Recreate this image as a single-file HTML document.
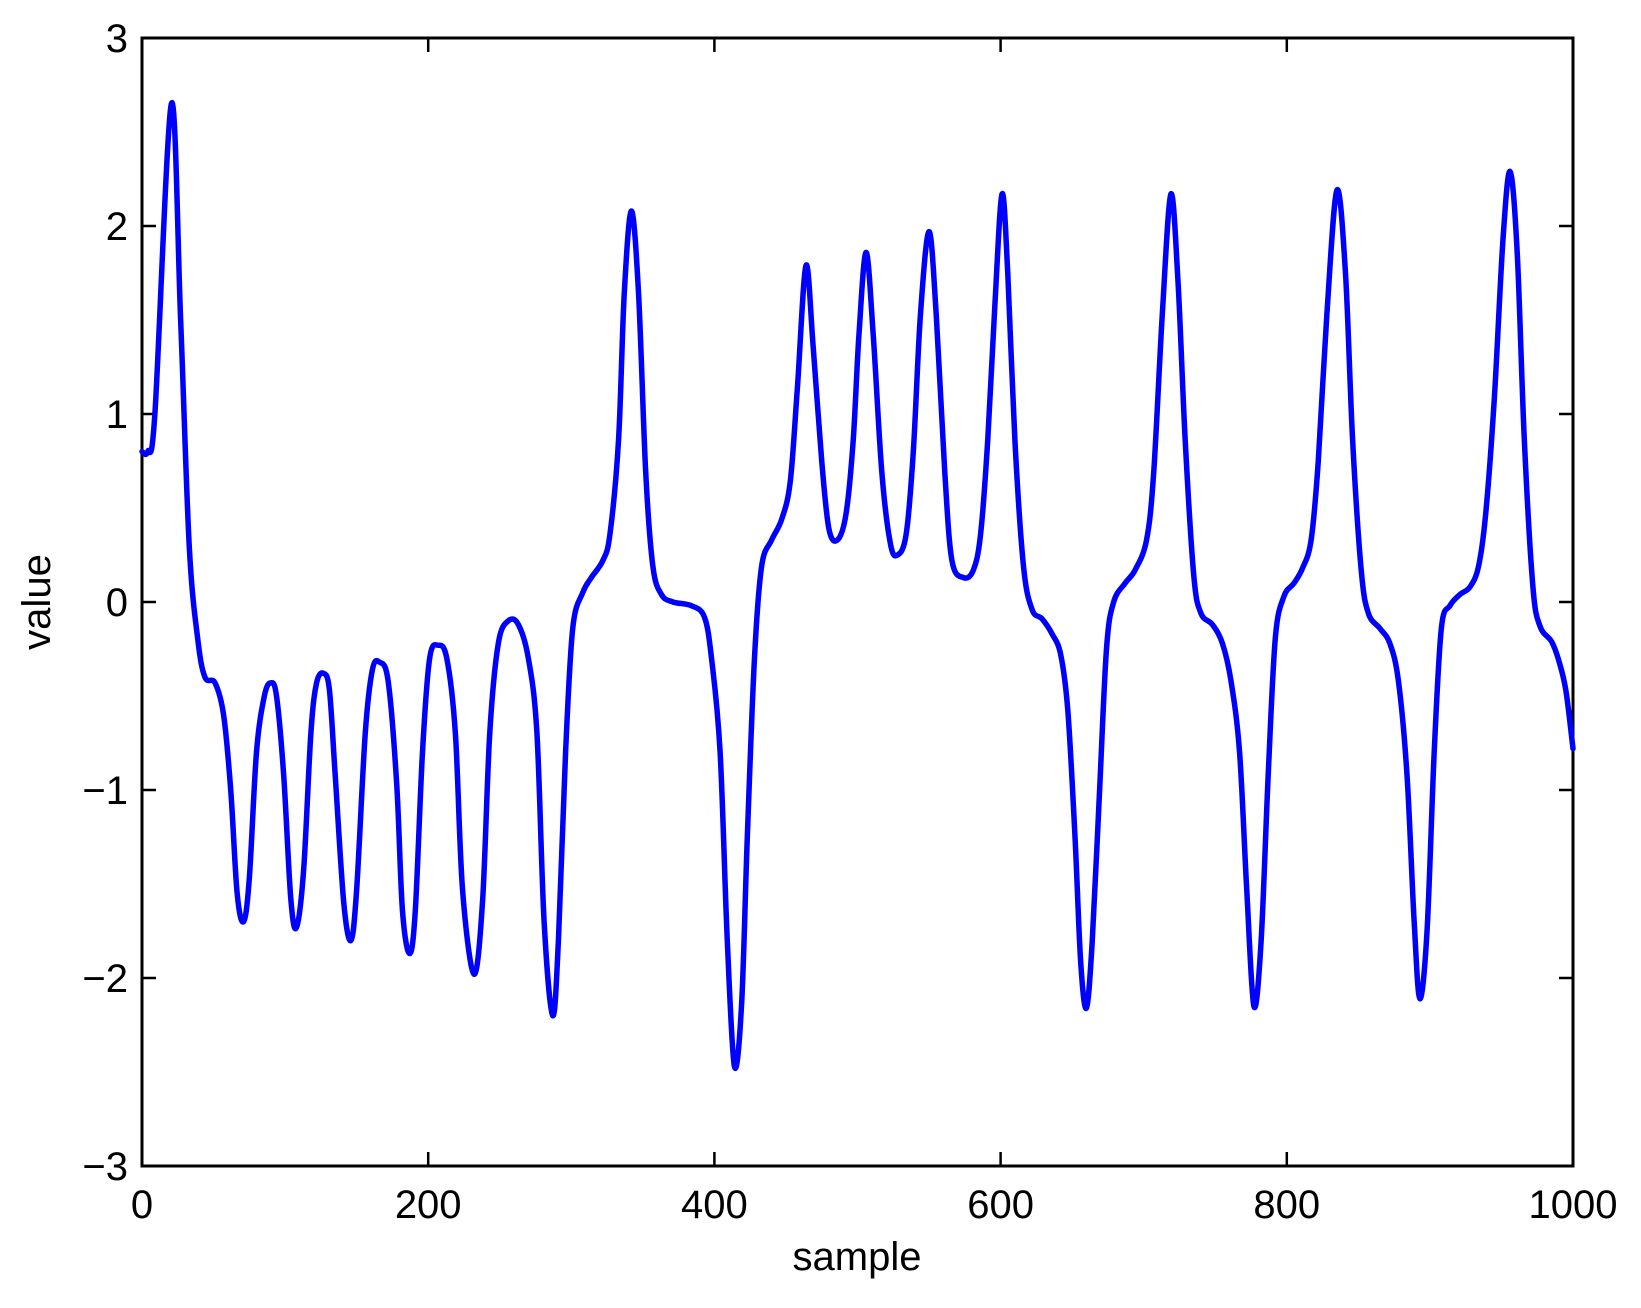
<!DOCTYPE html>
<html><head><meta charset="utf-8"><style>
html,body{margin:0;padding:0;background:#fff;}
svg{display:block;}
text{font-family:"Liberation Sans",Arial,sans-serif;fill:#000;}
</style></head><body>
<svg id="chart" width="1641" height="1308" viewBox="0 0 1641 1308" xmlns="http://www.w3.org/2000/svg">
<g id="axes"></g>
<path id="series" fill="none" stroke="#0000ff" stroke-width="5.5" stroke-linejoin="round" stroke-linecap="round"/>
<text x="857" y="1270" font-size="40" text-anchor="middle">sample</text>
<text x="0" y="0" font-size="40" text-anchor="middle" transform="translate(50,602) rotate(-90)">value</text>
</svg>
<script>
const xTicks = [0,200,400,600,800,1000];
const yTicks = [-3,-2,-1,0,1,2,3];
const yTickLabels = ["\u22123","\u22122","\u22121","0","1","2","3"];
const sampleX = [0,4,9,20.5,27,33,39,44,51,57,62,66.5,71,75,80,85.5,90,94,99,104,108,113,118,122,127,131,135,141,146,150,156,161,166,172,178,182,187,191,196,201,207,213,219,224,232,238,243,249,256,263,270,276,281,287,291,296,301,308,314,322,327,333,337,342,347,352,357,363,371,384,393,398,404,409,414,419,423,428,433,440,447,453,458,464,469,475,480,486,492,497,501,506,511,517,523,528,534,539,544,550,555,561,566,574,581,586,591,596,601,605,610,616,622,629,636,642,647,652,656,660,664,669,674,679,687,694,702,707,713,719,724,729,735,740,748,755,761,767,772,777,782,787,792,798,805,811,817,822,828,835,841,846,852,857,865,872,878,884,889,893,898,903,908,914,921,928,934,939,945,951,956,961,966,972,977,985,990,995,1000];
const sampleY = [0.8,0.8,1.0,2.65,1.5,0.3,-0.2,-0.4,-0.43,-0.6,-1.0,-1.55,-1.7,-1.47,-0.8,-0.5,-0.43,-0.5,-0.92,-1.58,-1.73,-1.42,-0.7,-0.43,-0.38,-0.47,-0.92,-1.6,-1.8,-1.53,-0.7,-0.36,-0.32,-0.42,-0.97,-1.64,-1.87,-1.64,-0.8,-0.3,-0.23,-0.3,-0.7,-1.53,-1.98,-1.59,-0.7,-0.22,-0.1,-0.12,-0.3,-0.7,-1.7,-2.2,-1.8,-0.8,-0.14,0.05,0.13,0.22,0.36,0.86,1.64,2.08,1.64,0.69,0.19,0.04,0,-0.02,-0.08,-0.3,-0.8,-1.8,-2.47,-2.14,-1.25,-0.3,0.19,0.33,0.44,0.64,1.14,1.79,1.36,0.75,0.39,0.33,0.47,0.86,1.42,1.86,1.42,0.69,0.31,0.25,0.36,0.8,1.53,1.97,1.53,0.69,0.22,0.13,0.17,0.36,0.86,1.58,2.17,1.75,0.86,0.19,-0.04,-0.09,-0.17,-0.28,-0.58,-1.25,-1.92,-2.16,-1.81,-1.03,-0.25,0,0.1,0.17,0.33,0.69,1.53,2.17,1.7,0.86,0.14,-0.06,-0.12,-0.22,-0.42,-0.8,-1.53,-2.15,-1.81,-0.92,-0.19,0.03,0.1,0.18,0.33,0.75,1.53,2.19,1.75,0.86,0.17,-0.06,-0.14,-0.22,-0.42,-0.92,-1.7,-2.11,-1.75,-0.8,-0.14,-0.02,0.04,0.08,0.19,0.47,1.08,1.92,2.29,1.86,0.86,0.08,-0.13,-0.21,-0.31,-0.47,-0.78];

const L=142,R=1573,T=38,B=1166;
const xs=v=>L+(v-0)/(1000-0)*(R-L);
const ys=v=>B-(v+3)/6*(B-T);
const NS="http://www.w3.org/2000/svg";
const axes=document.getElementById('axes');
function mk(tag,attrs){const e=document.createElementNS(NS,tag);for(const k in attrs)e.setAttribute(k,attrs[k]);axes.appendChild(e);return e;}
const box=mk('rect',{x:L,y:T,width:R-L,height:B-T,fill:'none',stroke:'#000','stroke-width':3});


xTicks.forEach(t=>{
  const x=xs(t);
  const a=mk('line',{x1:x,y1:B,x2:x,y2:B-14,stroke:'#000','stroke-width':2.5});
  
  
  const b=mk('line',{x1:x,y1:T,x2:x,y2:T+14,stroke:'#000','stroke-width':2.5});
  
  
  const tx=mk('text',{x:x,y:B+52,'font-size':40,'text-anchor':'middle'});
  tx.textContent=String(t);
  
  
});
yTicks.forEach((t,i)=>{
  const y=ys(t);
  const a=mk('line',{x1:L,y1:y,x2:L+14,y2:y,stroke:'#000','stroke-width':2.5});
  
  
  const b=mk('line',{x1:R,y1:y,x2:R-14,y2:y,stroke:'#000','stroke-width':2.5});
  
  
  const tx=mk('text',{x:L-14,y:y+14,'font-size':40,'text-anchor':'end'});
  tx.textContent=yTickLabels[i];
  
  
});
const P=sampleX.map((v,i)=>[xs(v),ys(sampleY[i])]);
let d='M'+P[0][0].toFixed(2)+','+P[0][1].toFixed(2);
for(let i=0;i<P.length-1;i++){
  const p0=P[Math.max(0,i-1)],p1=P[i],p2=P[i+1],p3=P[Math.min(P.length-1,i+2)];
  const c1=[p1[0]+(p2[0]-p0[0])/6,p1[1]+(p2[1]-p0[1])/6];
  const c2=[p2[0]-(p3[0]-p1[0])/6,p2[1]-(p3[1]-p1[1])/6];
  d+=' C'+c1[0].toFixed(2)+','+c1[1].toFixed(2)+' '+c2[0].toFixed(2)+','+c2[1].toFixed(2)+' '+p2[0].toFixed(2)+','+p2[1].toFixed(2);
}
document.getElementById('series').setAttribute('d',d);
</script>
</body></html>
